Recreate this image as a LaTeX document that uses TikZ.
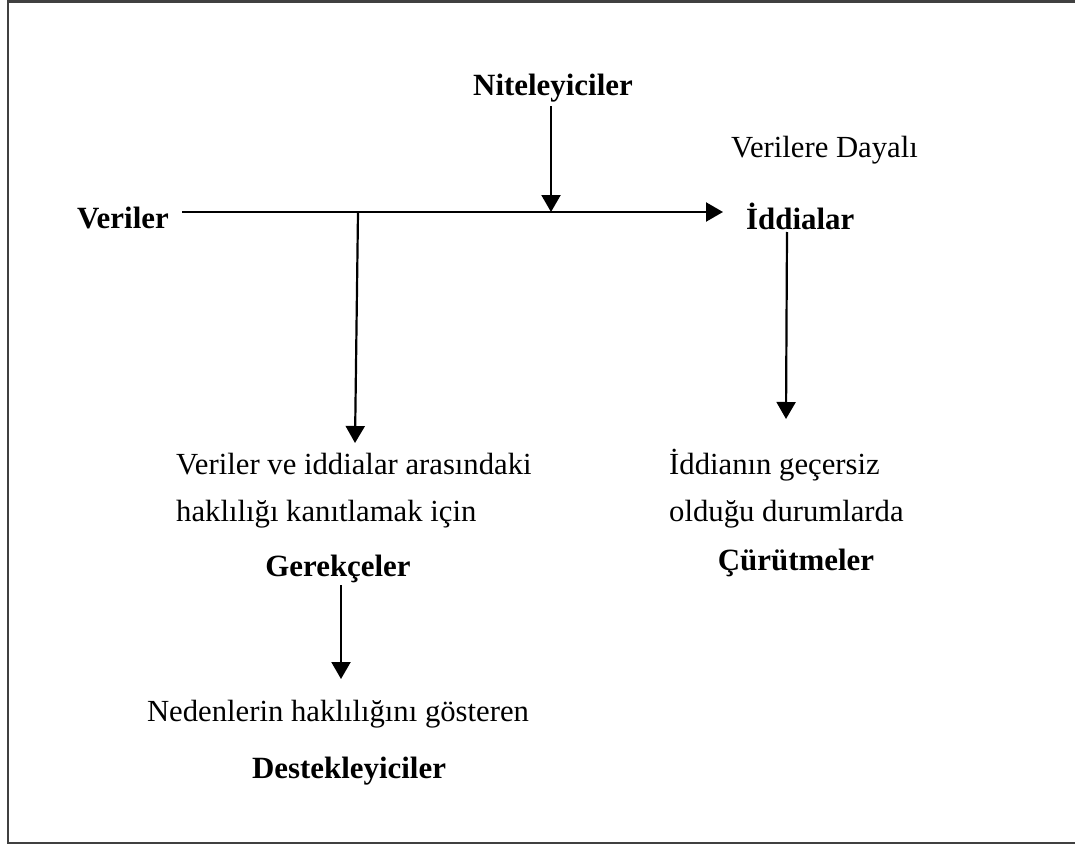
\documentclass[tikz,border=0pt]{standalone}
\usepackage{fontspec}
\setmainfont{Liberation Serif}
\usetikzlibrary{arrows.meta}
\definecolor{framegray}{HTML}{404040}
\begin{document}
\begin{tikzpicture}[x=1pt,y=-1pt,
  txt/.style={inner sep=0pt,font=\fontsize{30.7}{36}\selectfont},
  bold/.style={txt,font=\fontsize{30.9}{36}\selectfont\bfseries},
  arr/.style={line width=2.2pt,-{Triangle[length=17pt,width=19pt]}},
  plain/.style={line width=2.2pt}]
\useasboundingbox (0,0) rectangle (1075,845);
\begin{scope}
  \clip (0,0) rectangle (1075,845);
  \draw[framegray,line width=2.2pt] (1090,1.6) -- (7.6,1.6) -- (7.6,842.6) -- (1090,842.6);
\end{scope}

% labels of the argument model
\node[bold] (veriler) at (123,218) {Veriler};
\node[bold] (nitel) at (553,88) {Niteleyiciler};
\node[txt,anchor=west] (dayali) at (731,150) {Verilere Dayalı};
\node[bold,anchor=west] (iddia) at (746,216) {İddialar};

\node[txt,anchor=west] (ger1) at (176,464) {Veriler ve iddialar arasındaki};
\node[txt,anchor=west] (ger2) at (176,514) {haklılığı kanıtlamak için};
\node[bold] (gerek) at (338,569) {Gerekçeler};

\node[txt] (des1) at (338,714) {Nedenlerin haklılığını gösteren};
\node[bold] (destek) at (349,771) {Destekleyiciler};

\node[txt,anchor=west] (cur1) at (669,465) {İddianın geçersiz};
\node[txt,anchor=west] (cur2) at (669,514) {olduğu durumlarda};
\node[bold] (curut) at (796,563) {Çürütmeler};

% connectors
\coordinate (hstart) at (182,212);
\coordinate (hend) at (723,212);
\coordinate (branch) at (358,212);
\coordinate (merge) at (551,212);
\coordinate (gertip) at (355,443);
\coordinate (curtip) at (786,419);
\coordinate (destip) at (341,679);

\draw[arr] (hstart) -- (hend);
\draw[arr] (nitel.south -| merge) ++(0,4) -- (merge);
\draw[arr] (branch) -- (gertip);
\draw[arr] (787,232) -- (curtip);
\draw[arr] (gerek.south -| destip) ++(0,2) -- (destip);
\end{tikzpicture}
\end{document}
